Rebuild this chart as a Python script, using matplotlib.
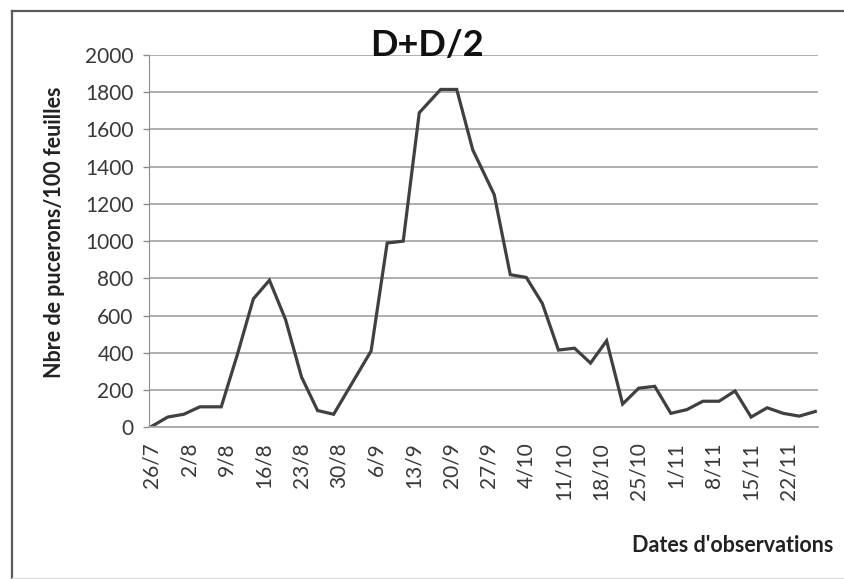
from datetime import date
import matplotlib
matplotlib.use("Agg")
import matplotlib.pyplot as plt
from matplotlib.lines import Line2D

# Dates de relevé (jour/mois) et nombre de pucerons pour 100 feuilles
obs_dates = ["26/7", "29/7", "1/8", "4/8", "8/8", "11/8", "14/8", "17/8",
             "20/8", "23/8", "26/8", "29/8", "5/9", "8/9", "11/9", "14/9",
             "18/9", "21/9", "24/9", "28/9", "1/10", "4/10", "7/10", "10/10",
             "13/10", "16/10", "19/10", "22/10", "25/10", "28/10", "31/10",
             "3/11", "6/11", "9/11", "12/11", "15/11", "18/11", "21/11",
             "24/11", "27/11"]
pucerons = [5, 55, 70, 110, 110, 390, 690, 790,
            580, 270, 90, 70, 410, 990, 1000, 1690,
            1815, 1815, 1490, 1250, 820, 805, 665, 415,
            425, 345, 465, 125, 210, 220, 75,
            95, 140, 140, 195, 55, 105, 75,
            60, 85]

tick_dates = ["26/7", "2/8", "9/8", "16/8", "23/8", "30/8", "6/9", "13/9",
              "20/9", "27/9", "4/10", "11/10", "18/10", "25/10", "1/11",
              "8/11", "15/11", "22/11"]
y_ticks = list(range(0, 2001, 200))


def to_day(s, start=date(2000, 7, 26)):
    d, m = map(int, s.split("/"))
    return (date(2000, m, d) - start).days


x_obs = [to_day(s) for s in obs_dates]
x_ticks = [to_day(s) for s in tick_dates]

fig = plt.figure(figsize=(8.45, 5.79), dpi=100)
ax = fig.add_axes([149 / 845, 151.7 / 579, 669 / 845, 372.3 / 579])

ax.plot(x_obs, pucerons, color="#404040", lw=2.3, solid_joinstyle="miter")

ax.set_xlim(-0.5, 124.5)
ax.set_ylim(0, 2000)
ax.set_yticks(y_ticks)
ax.set_xticks(x_ticks)
ax.set_xticklabels(tick_dates, rotation=90)

ax.yaxis.grid(True, color="#a8a8a8", lw=1.3)
ax.set_axisbelow(True)
for side in ("top", "right"):
    ax.spines[side].set_visible(False)
ax.spines["left"].set_color("#8c8c8c")
ax.spines["bottom"].set_color("#a8a8a8")
ax.spines["bottom"].set_linewidth(1.3)

ax.tick_params(axis="y", length=4, width=1, color="#8c8c8c", pad=7,
               labelsize=15, labelcolor="#383838")
ax.tick_params(axis="x", length=0, pad=11, labelsize=15, labelcolor="#383838")
for lab in ax.get_xticklabels() + ax.get_yticklabels():
    lab.set_family("Lato")

fig.text(427 / 845, 1 - 46 / 579, "D+D/2", ha="center", va="center",
         fontsize=26, family="Lato", fontweight="bold", color="#111111")
fig.text(55 / 845, 1 - 232 / 579, "Nbre de pucerons/100 feuilles",
         rotation=90, ha="center", va="center", fontsize=15.5,
         family="Lato", fontweight="bold", color="#222222")
fig.text(833 / 845, 1 - 546 / 579, "Dates d'observations", ha="right",
         va="center", fontsize=15.5, family="Lato", fontweight="bold",
         color="#222222")

# cadre de la zone graphique
frame_kw = dict(transform=fig.transFigure, color="#5a5a5a", lw=1.6)
x0, y0, y1 = 12 / 845, 1 - 578 / 579, 1 - 11 / 579
fig.add_artist(Line2D([x0, x0], [y0, y1], **frame_kw))
fig.add_artist(Line2D([x0, 1.0], [y1, y1], **frame_kw))
fig.add_artist(Line2D([x0, 1.0], [y0, y0], color="#dddddd", lw=1,
                      transform=fig.transFigure))

fig.savefig("out.png", dpi=100)
